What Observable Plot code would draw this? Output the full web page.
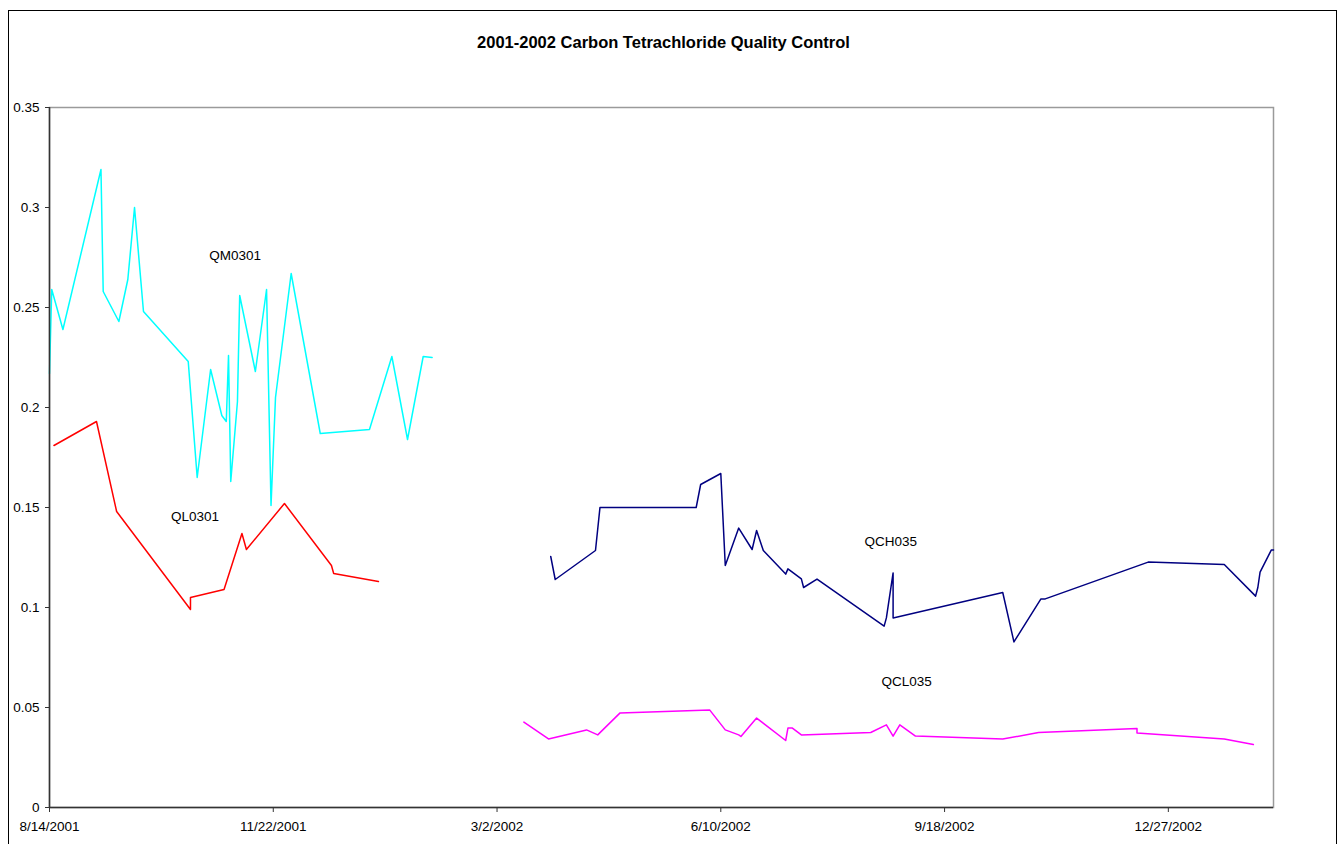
<!DOCTYPE html>
<html>
<head>
<meta charset="utf-8">
<script src="https://cdn.jsdelivr.net/npm/d3@7"></script>
<script src="https://cdn.jsdelivr.net/npm/@observablehq/plot@0.6"></script>
<style>
  body { margin: 0; background: #fff; font-family: "Liberation Sans", Arial, sans-serif; }
  #wrap { position: relative; width: 1342px; height: 844px; overflow: hidden; background: #fff; }
  #frame { position: absolute; left: 8px; top: 10px; width: 1329px; height: 900px; border: 1px solid #000; box-sizing: border-box; }
  #title { position: absolute; left: 0; width: 1327px; top: 32px; line-height: 20px; text-align: center; font-weight: bold; font-size: 16.5px; color: #000; }
  #chart { position: absolute; left: 0; top: 0; }
</style>
</head>
<body>
<div id="wrap">
  <div id="frame"></div>
  <div id="chart"></div>
  <div id="title">2001-2002 Carbon Tetrachloride Quality Control</div>
</div>
<script>
// ---- Data ----
const qmDates = ["2001-08-14","2001-08-15","2001-08-20","2001-09-06","2001-09-07","2001-09-14","2001-09-18","2001-09-21","2001-09-25","2001-10-15","2001-10-19","2001-10-25","2001-10-30","2001-11-01","2001-11-02","2001-11-03","2001-11-06","2001-11-07","2001-11-14","2001-11-19","2001-11-21","2001-11-23","2001-11-30","2001-12-13","2002-01-04","2002-01-14","2002-01-21","2002-01-28","2002-02-01"];
const qmValues = [0.217,0.259,0.239,0.319,0.258,0.243,0.264,0.300,0.248,0.223,0.165,0.219,0.196,0.193,0.226,0.163,0.203,0.256,0.218,0.259,0.151,0.205,0.267,0.187,0.189,0.2255,0.184,0.2255,0.225];

const qlDates = ["2001-08-16","2001-09-04","2001-09-13","2001-10-16","2001-10-16","2001-10-31","2001-11-08","2001-11-10","2001-11-27","2001-12-18","2001-12-19","2002-01-08"];
const qlValues = [0.181,0.193,0.148,0.099,0.105,0.109,0.137,0.129,0.152,0.121,0.117,0.113];

const qchDates = ["2002-03-26","2002-03-28","2002-04-15","2002-04-17","2002-05-30","2002-06-01","2002-06-10","2002-06-12","2002-06-18","2002-06-24","2002-06-26","2002-06-29","2002-07-09","2002-07-10","2002-07-16","2002-07-17","2002-07-23","2002-08-22","2002-08-23","2002-08-26","2002-08-26","2002-10-14","2002-10-19","2002-10-31","2002-11-02","2002-12-18","2003-01-21","2003-02-04","2003-02-05","2003-02-06","2003-02-11","2003-02-12"];
const qchValues = [0.1255,0.114,0.1285,0.150,0.150,0.1615,0.167,0.121,0.1397,0.129,0.1385,0.1285,0.1167,0.1193,0.1143,0.110,0.1142,0.0907,0.0948,0.1173,0.0947,0.1075,0.0828,0.1042,0.1043,0.1227,0.1215,0.1057,0.110,0.1177,0.1287,0.1287];

const qclDates = ["2002-03-14","2002-03-25","2002-04-11","2002-04-16","2002-04-26","2002-06-05","2002-06-12","2002-06-18","2002-06-19","2002-06-26","2002-07-09","2002-07-10","2002-07-12","2002-07-16","2002-08-16","2002-08-23","2002-08-26","2002-08-29","2002-09-05","2002-10-14","2002-10-30","2002-12-13","2002-12-13","2003-01-21","2003-02-03"];
const qclValues = [0.0427,0.0343,0.0388,0.0363,0.0473,0.0488,0.0388,0.0363,0.0355,0.0447,0.0335,0.0397,0.0397,0.0363,0.0375,0.0413,0.0357,0.0413,0.0357,0.0342,0.0375,0.0395,0.0373,0.0343,0.0315];

const seriesNames  = ["QM0301", "QL0301", "QCH035", "QCL035"];
const seriesColors = ["#00FFFF", "#FF0000", "#000080", "#FF00FF"];

const labelTexts  = ["QM0301", "QL0301", "QCH035", "QCL035"];
const labelDates  = ["2001-11-05", "2001-10-18", "2002-08-25", "2002-09-01"];
const labelValues = [0.276, 0.1455, 0.1327, 0.063];

const xTickDates  = ["2001-08-14","2001-11-22","2002-03-02","2002-06-10","2002-09-18","2002-12-27"];
const xTickLabels = ["8/14/2001","11/22/2001","3/2/2002","6/10/2002","9/18/2002","12/27/2002"];
const yTicks      = [0, 0.05, 0.1, 0.15, 0.2, 0.25, 0.3, 0.35];
const yTickLabels = ["0","0.05","0.1","0.15","0.2","0.25","0.3","0.35"];
const xDomain = ["2001-08-14", "2003-02-12"];

// ---- Build tables ----
const parse = d3.utcParse("%Y-%m-%d");
const allDates  = [qmDates, qlDates, qchDates, qclDates];
const allValues = [qmValues, qlValues, qchValues, qclValues];
const rows = seriesNames.flatMap((name, s) =>
  allDates[s].map((d, i) => ({series: name, date: parse(d), value: allValues[s][i], order: i})));
const labels = labelTexts.map((t, i) => ({text: t, date: parse(labelDates[i]), value: labelValues[i]}));
const xTickVals = xTickDates.map(parse);
const xLabelMap = new Map(xTickVals.map((d, i) => [+d, xTickLabels[i]]));
const yLabelMap = new Map(yTicks.map((v, i) => [v, yTickLabels[i]]));

const FONT = "Liberation Sans, Arial, sans-serif";
const xMin = parse(xDomain[0]);

const chart = Plot.plot({
  width: 1342,
  height: 844,
  marginLeft: 49,
  marginRight: 69,
  marginTop: 107,
  marginBottom: 37,
  style: {fontFamily: FONT, fontSize: "13.5px", color: "#000", background: "transparent"},
  x: {type: "utc", domain: xDomain.map(parse)},
  y: {domain: [0, 0.35]},
  color: {domain: seriesNames, range: seriesColors},
  marks: [
    Plot.frame({stroke: "#9a9a9a", strokeWidth: 1.5}),
    Plot.line(rows, {x: "date", y: "value", z: "series", stroke: "series", strokeWidth: 1.5}),
    Plot.ruleX([xMin], {stroke: "#333", strokeWidth: 1.5}),
    Plot.ruleY([0], {stroke: "#333", strokeWidth: 1.5}),
    Plot.axisY({ticks: yTicks, tickFormat: v => yLabelMap.get(v), tickSize: 4, tickPadding: 6, fontSize: 13.5, stroke: "#333", label: null}),
    Plot.axisX({ticks: xTickVals, tickFormat: d => xLabelMap.get(+d), tickSize: 5, tickPadding: 9, fontSize: 13.5, stroke: "#333", label: null}),
    Plot.text(labels, {x: "date", y: "value", text: "text", fontSize: 13.5, fill: "#000"})
  ]
});
document.getElementById("chart").appendChild(chart);
</script>
</body>
</html>
